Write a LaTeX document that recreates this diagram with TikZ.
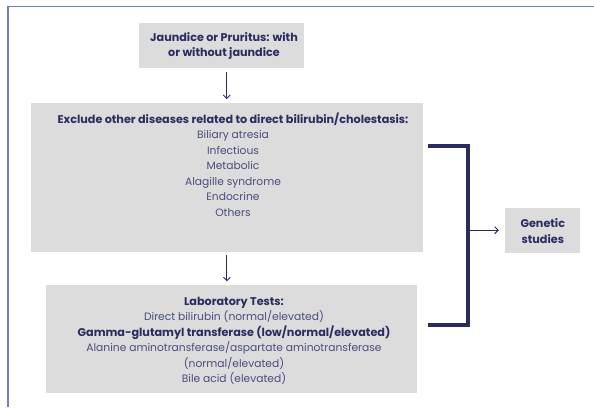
\documentclass[tikz,border=0pt]{standalone}
\usepackage{fontspec}
\setmainfont{Poppins}
\usetikzlibrary{arrows.meta}
\definecolor{navy}{HTML}{2A2C60}
\definecolor{softnavy}{HTML}{4A4C7E}
\definecolor{boxgray}{HTML}{DCDCDC}
\definecolor{framebl}{HTML}{6E7FC2}
\tikzset{
  box/.style={fill=boxgray, draw=none, inner sep=0pt},
  txt/.style={align=center, text=softnavy, font=\fontsize{10.7}{15.5}\selectfont, inner sep=0pt},
  arr/.style={draw=navy, line width=0.9pt, -{Straight Barb[length=3.5pt,width=7pt,line width=0.9pt]}},
  brk/.style={draw=navy, line width=4pt, miter limit=10}
}
\newcommand{\hd}[1]{{\fontsize{11.2}{15.5}\selectfont\bfseries\color{navy}#1}}
\begin{document}
\begin{tikzpicture}[x=1pt,y=-1pt]
\useasboundingbox (0,0) rectangle (594,407);
% page frame on the left and top
\draw[framebl, line width=1.4pt] (8,407) -- (8,6.5) -- (594,6.5);

% boxes
\node[box, minimum width=165.3pt, minimum height=45pt] (tb) at (221.7,45.2) {};
\node[box, minimum width=391.7pt, minimum height=148.4pt] (mb) at (226.85,177.5) {};
\node[box, minimum width=371.6pt, minimum height=108pt] (lb) at (231.5,339) {};
\node[box, minimum width=75pt, minimum height=45pt] (gb) at (542.5,230.2) {};

% texts
\node[txt] (tt) at (224,45.8) {\hd{Jaundice or Pruritus: with}\\\hd{or without jaundice}};
\node[txt] (mt) at (233,164.5) {\hd{Exclude other diseases related to direct bilirubin/cholestasis:}\\
  Biliary atresia\\Infectious\\Metabolic\\Alagille syndrome\\Endocrine\\Others};
\node[txt] (lt) at (234,341) {\hd{Laboratory Tests:}\\
  Direct bilirubin (normal/elevated)\\
  \hd{Gamma-glutamyl transferase (low/normal/elevated)}\\
  Alanine aminotransferase/aspartate aminotransferase\\
  (normal/elevated)\\
  Bile acid (elevated)};
\node[txt] (gt) at (542.8,231) {\hd{Genetic}\\\hd{studies}};

% vertical arrows
\draw[arr, shorten <=4pt, shorten >=4pt] ([xshift=5pt]tb.south) -- ([xshift=5pt]tb.south |- mb.north);
\draw[arr, shorten <=3pt, shorten >=3.5pt] (mb.south) -- (mb.south |- lb.north);

% bracket joining both boxes
\coordinate (b1) at (428,145.7);
\coordinate (b2) at (468,145.7);
\coordinate (b3) at (468,324.7);
\coordinate (b4) at (428,324.7);
\draw[brk] (b1) -- (b2) -- (b3) -- (b4);
\coordinate (bm) at (470,230.2);
\draw[arr, shorten >=6pt] (bm) -- (gb.west);
\end{tikzpicture}
\end{document}
